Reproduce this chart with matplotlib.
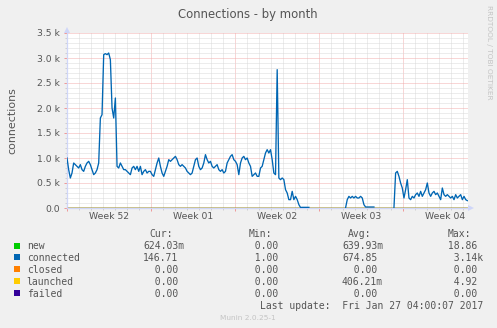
import numpy as np
import matplotlib
matplotlib.use("Agg")
import matplotlib.pyplot as plt
import matplotlib.transforms as mtransforms
from matplotlib.patches import Rectangle
from matplotlib.ticker import MultipleLocator, FixedLocator

# ---------------- data ----------------
STEP_H = 10.0 / 3.0          # hours between readings
NAN = np.nan
connected = [
    1000, 767, 600, 700, 900, 867, 833, 800, 867, 767,
    733, 833, 900, 933, 867, 767, 667, 700, 767, 900,
    1800, 1867, 3067, 3087, 3067, 3100, 2967, 2000, 1800, 2200,
    833, 800, 900, 833, 767, 767, 733, 700, 667, 800,
    833, 767, 833, 733, 833, 667, 733, 767, 700, 733,
    733, 667, 633, 767, 900, 1000, 833, 700, 633, 733,
    833, 967, 933, 967, 1000, 1033, 967, 867, 833, 867,
    833, 800, 733, 700, 667, 700, 833, 967, 1000, 833,
    767, 800, 900, 1067, 967, 900, 933, 833, 800, 833,
    867, 767, 733, 767, 700, 733, 900, 967, 1033, 1067,
    967, 933, 867, 667, 900, 1000, 1033, 967, 1000, 900,
    833, 633, 667, 700, 633, 633, 800, 833, 967, 1100,
    1167, 1100, 1167, 967, 700, 667, 2767, 600, 567, 600,
    567, 367, 300, 167, 167, 333, 167, 233, 167, 67,
    10, 13, 13, 13, 13, 13,
    NAN, NAN, NAN, NAN, NAN, NAN, NAN, NAN, NAN, NAN,
    NAN, NAN, NAN, NAN, NAN, NAN, NAN, NAN, NAN, NAN, NAN,
    5, 167, 233, 200, 233, 200, 233, 200, 200, 233,
    200, 67, 20, 20, 20, 20, 20, 20,
    NAN, NAN, NAN, NAN, NAN, NAN, NAN, NAN, NAN, NAN, NAN,
    5, 700, 733, 633, 500, 400, 200, 367, 567, 200,
    167, 233, 200, 267, 300, 233, 333, 233, 300, 367,
    500, 300, 233, 300, 333, 267, 300, 233, 167, 400,
    267, 233, 267, 233, 200, 233, 167, 267, 200, 233,
    267, 167, 233, 167, 147,
]
N = len(connected)
new = np.zeros(N)        # too small to see at this scale
closed = np.zeros(N)
launched = np.zeros(N)
failed = np.zeros(N)

week_labels = ["Week 52", "Week 01", "Week 02", "Week 03", "Week 04"]
WEEK_H = 168.0
X_MAX_H = 801.3
Y_MAX = 3500
y_ticks = [0, 500, 1000, 1500, 2000, 2500, 3000, 3500]
y_tick_labels = ["0.0", "0.5 k", "1.0 k", "1.5 k", "2.0 k", "2.5 k", "3.0 k", "3.5 k"]

legend_names = ["new", "connected", "closed", "launched", "failed"]
legend_colors = ["#00CC00", "#0066B3", "#FF8000", "#FFCC00", "#330099"]
cur_vals = ["624.03m", "146.71", "  0.00", "  0.00", "  0.00"]
min_vals = ["  0.00", "  1.00", "  0.00", "  0.00", "  0.00"]
avg_vals = ["639.93m", "674.85", "  0.00", "406.21m", "  0.00"]
max_vals = [" 18.86", "  3.14k", "  0.00", "  4.92", "  0.00"]

# ---------------- figure ----------------
W, H = 497, 328
BG = "#F0F0F0"
FONT = "#555555"
AXIS_C = "#CFD6F8"
MGRID = "#F2AEAE"
GRID = "#DADADA"

def fx(px):
    return px / W

def fy(py):
    return 1 - py / H

fig = plt.figure(figsize=(W / 100, H / 100), dpi=100, facecolor=BG)
ax = fig.add_axes([fx(67), fy(208), (468 - 67) / W, (208 - 33) / H])
ax.set_facecolor("white")

t = np.arange(N) * STEP_H
series = [new, np.array(connected, dtype=float), closed, launched, failed]
for vals, col, name in zip(series, legend_colors, legend_names):
    if name == "failed":
        ax.plot(t, vals, color=col, lw=1.0, alpha=0.55, solid_capstyle="butt", zorder=3)
    elif name == "connected":
        ax.plot(t, vals, color=col, lw=0.95, zorder=4)
    else:
        ax.plot(t, vals, color=col, lw=1.0, zorder=2)

ax.set_xlim(0, X_MAX_H)
ax.set_ylim(0, Y_MAX)

# grid / ticks
ax.xaxis.set_major_locator(MultipleLocator(WEEK_H))
ax.xaxis.set_minor_locator(MultipleLocator(24))
ax.set_xticklabels([])
ax.yaxis.set_major_locator(FixedLocator(y_ticks))
ax.set_yticklabels(y_tick_labels)
ax.yaxis.set_minor_locator(MultipleLocator(100))

ax.grid(which="minor", color=GRID, lw=0.72, linestyle=(0, (1, 1)), zorder=0)
ax.grid(which="major", color=MGRID, lw=0.72, linestyle=(0, (1, 1)), zorder=1)
ax.set_axisbelow(True)

ax.tick_params(axis="both", which="major", length=2.2, width=0.72, color="#EE9A9A",
               labelsize=6.7, labelcolor=FONT)
ax.tick_params(axis="both", which="minor", length=1.5, width=0.72, color="#CFCFCF")
ax.tick_params(axis="y", which="major", pad=3.0)

for s in ["top", "right"]:
    ax.spines[s].set_visible(False)
ax.spines["left"].set_color(AXIS_C)
ax.spines["bottom"].set_color(AXIS_C)
ax.spines["left"].set_linewidth(0.9)
ax.spines["bottom"].set_linewidth(0.9)

# week labels centred in each week
lab_tr = mtransforms.offset_copy(ax.get_xaxis_transform(), fig=fig, x=0, y=-11.3, units="dots")
for k, lab in enumerate(week_labels):
    ax.text(WEEK_H * k + WEEK_H / 2, 0, lab, transform=lab_tr, ha="center",
            va="baseline", fontsize=6.7, color=FONT, clip_on=False)

# axis arrows
up_tr = mtransforms.offset_copy(ax.transAxes, fig=fig, x=0, y=3, units="dots")
ax.plot([0], [1], marker="^", ms=4.5, color=AXIS_C, transform=up_tr, clip_on=False, mew=0)
rt_tr = mtransforms.offset_copy(ax.transAxes, fig=fig, x=3, y=0, units="dots")
ax.plot([1], [0], marker=">", ms=4.5, color=AXIS_C, transform=rt_tr, clip_on=False, mew=0)

# texts
fig.text(fx(248), fy(17.7), "Connections - by month", ha="center", va="baseline",
         fontsize=8.4, color=FONT)
fig.text(fx(12), fy(120.5), "connections", rotation=90, ha="center", va="center",
         fontsize=7.9, color=FONT)
fig.text(fx(488.5), fy(5), "RRDTOOL / TOBI OETIKER", rotation=270, ha="center", va="top",
         fontsize=5.3, color="#C4C4C4")

mono = "DejaVu Sans Mono"
LFS = 7.0
hdr_y = 237.3
for lab, px in zip(["Cur:", "Min:", "Avg:", "Max:"], [149, 249, 348, 448]):
    fig.text(fx(px), fy(hdr_y), lab, ha="left", va="baseline", fontsize=LFS,
             family=mono, color=FONT)

base0 = 248.8
dy = 11.95
for i, name in enumerate(legend_names):
    by = base0 + i * dy
    fig.add_artist(Rectangle((fx(14), fy(by - 0.3)), 6 / W, 6 / H,
                             transform=fig.transFigure, facecolor=legend_colors[i],
                             edgecolor="none"))
    fig.text(fx(26.7), fy(by), name, ha="left", va="baseline", fontsize=LFS,
             family=mono, color=FONT)
    for col_vals, px in zip([cur_vals, min_vals, avg_vals, max_vals], [143, 243.3, 342, 441.5]):
        fig.text(fx(px), fy(by), col_vals[i], ha="left", va="baseline", fontsize=LFS,
                 family=mono, color=FONT)

fig.text(fx(483), fy(309.3), "Last update:  Fri Jan 27 04:00:07 2017", ha="right",
         va="baseline", fontsize=LFS, family=mono, color=FONT)
fig.text(fx(248), fy(320), "Munin 2.0.25-1", ha="center", va="baseline",
         fontsize=5.3, color="#C4C4C4")

fig.savefig("out.png", dpi=100, facecolor=BG)
